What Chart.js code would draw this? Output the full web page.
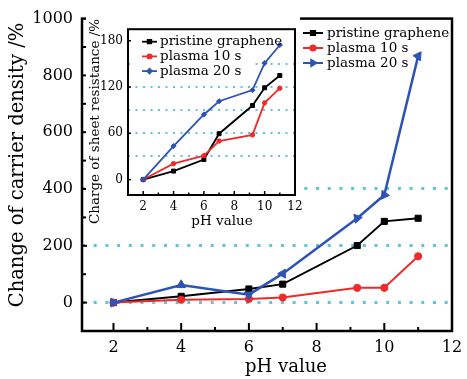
<!DOCTYPE html>
<html><head><meta charset="utf-8">
<script src="https://cdn.jsdelivr.net/npm/chart.js@4/dist/chart.umd.min.js"></script>
<style>
html,body{margin:0;padding:0;background:#fff;}
#wrap{position:relative;width:467px;height:379px;overflow:hidden;background:#fff;}
#main{position:absolute;left:0;top:0;}
#inset{position:absolute;left:86px;top:17px;}
</style></head><body>
<div id="wrap">
<canvas id="main" width="467" height="379"></canvas>
<canvas id="inset" width="222" height="215"></canvas>
</div>
<script>
// ---------- data ----------
const seriesNames = ['pristine graphene', 'plasma 10 s', 'plasma 20 s'];
const phValues = [2, 4, 6, 7, 9.2, 10, 11];
// main: change of carrier density (%)
const carrierPristine = [0, 22, 48, 65, 201, 286, 297];
const carrierPlasma10 = [0, 10, 13, 18, 52, 52, 163];
const carrierPlasma20 = [0, 62, 28, 102, 297, 379, 868];
// inset: change of sheet resistance (%)
const sheetPristine = [0, 11, 26, 59.5, 96, 119, 135];
const sheetPlasma10 = [0, 20.7, 31, 50, 58, 99.5, 118.5];
const sheetPlasma20 = [0, 43.5, 84.4, 101.6, 116, 151, 174.5];
// tick labels / grid values
const mainXTicks = [2, 4, 6, 8, 10, 12];
const mainXMinor = [3, 5, 7, 9, 11];
const mainYTicks = [0, 200, 400, 600, 800, 1000];
const mainYMinor = [100, 300, 500, 700, 900];
const mainYGrid = [0, 200, 400];
const insetXTicks = [2, 4, 6, 8, 10, 12];
const insetXMinor = [3, 5, 7, 9, 11];
const insetYTicks = [0, 60, 120, 180];
const insetYGrid = [30, 60, 90, 120, 150];
const mainXTitle = 'pH value';
const mainYTitle = 'Change of carrier density /%';
const insetXTitle = 'pH value';
const insetYTitle = 'Charge of sheet resistance /%';

const BLACK = '#000000', RED = '#ef2a2a', BLUE = '#2d53b6', CYAN = '#5cc8d6';
const SERIF = 'DejaVu Serif';
const blueRotations = [90, 0, 180, 30, 200, 215, 35];

function pts(ys) { return phValues.map((x, i) => ({x: x, y: ys[i]})); }
function setTicks(list) { return function (s) { s.ticks = list.map(v => ({value: v})); }; }

function decor(cfg) {
  return {
    id: 'decor',
    beforeDraw(chart) {
      if (cfg.bgWidth) {
        const c = chart.ctx; c.save(); c.fillStyle = '#fff';
        c.fillRect(0, 0, cfg.bgWidth, chart.height); c.restore();
      }
    },
    afterDatasetsDraw(chart) {
      const c = chart.ctx, a = chart.chartArea;
      const xs = chart.scales.x, ys = chart.scales.y;
      c.save();
      c.strokeStyle = '#000'; c.lineWidth = cfg.tickWidth;
      const xt = (list, len) => list.forEach(v => {
        const p = xs.getPixelForValue(v);
        if (p <= a.left + 1 || p >= a.right - 1) return;
        c.beginPath(); c.moveTo(p, a.bottom); c.lineTo(p, a.bottom - len); c.stroke();
      });
      xt(cfg.xMajor, cfg.xMajorLen); xt(cfg.xMinor, cfg.xMinorLen);
      const yt = (list, len) => list.forEach(v => {
        const p = ys.getPixelForValue(v);
        if (p <= a.top + 1 || p >= a.bottom - 1) return;
        c.beginPath(); c.moveTo(a.left, p); c.lineTo(a.left + len, p); c.stroke();
      });
      yt(cfg.yMajor, cfg.yMajorLen); yt(cfg.yMinor, cfg.yMinorLen);
      // frame
      c.lineWidth = cfg.frameWidth;
      c.strokeRect(a.left, a.top, a.right - a.left, a.bottom - a.top);
      // legend
      const L = cfg.legend;
      if (L.bg) { c.fillStyle = '#fff'; c.fillRect(L.bg[0], L.bg[1], L.bg[2], L.bg[3]); }
      chart.data.datasets.forEach((ds, i) => {
        const y = L.y + i * L.rowH;
        c.strokeStyle = ds.borderColor; c.fillStyle = ds.borderColor;
        c.lineWidth = L.lineWidth;
        c.beginPath(); c.moveTo(L.x, y); c.lineTo(L.x + L.lineLen, y); c.stroke();
        const m = L.markers[i];
        Chart.helpers.drawPoint(c, {pointStyle: m.style, radius: m.r, rotation: m.rot || 0, borderWidth: 1}, L.x + L.lineLen / 2, y);
        c.fillStyle = '#000';
        c.font = L.font + 'px "' + SERIF + '"';
        c.textBaseline = 'middle'; c.textAlign = 'left';
        c.fillText(ds.label, L.x + L.lineLen + L.gap, y);
      });
      // axis titles
      cfg.titles.forEach(t => {
        c.save();
        c.fillStyle = '#000';
        c.font = t.size + 'px "' + SERIF + '"';
        c.textAlign = 'center'; c.textBaseline = 'middle';
        c.translate(t.x, t.y);
        if (t.rot) c.rotate(t.rot * Math.PI / 180);
        c.fillText(t.text, 0, 0);
        c.restore();
      });
      c.restore();
    }
  };
}

// ---------- main chart ----------
new Chart(document.getElementById('main'), {
  type: 'line',
  data: {
    datasets: [
      {label: seriesNames[0], data: pts(carrierPristine), borderColor: BLACK, backgroundColor: BLACK,
       pointStyle: 'rect', pointRadius: 4.3, pointBorderWidth: 1, borderWidth: 2, order: 2},
      {label: seriesNames[1], data: pts(carrierPlasma10), borderColor: RED, backgroundColor: RED,
       pointStyle: 'circle', pointRadius: 3.6, pointBorderWidth: 1, borderWidth: 2, order: 1},
      {label: seriesNames[2], data: pts(carrierPlasma20), borderColor: BLUE, backgroundColor: BLUE,
       pointStyle: 'triangle', pointRadius: 5.2, pointRotation: blueRotations, pointBorderWidth: 1, borderWidth: 2.5, order: 0}
    ]
  },
  options: {
    responsive: false, animation: false, events: [],
    layout: {padding: {top: 15, right: 15, left: 0, bottom: 0}, autoPadding: false},
    plugins: {legend: {display: false}, tooltip: {enabled: false}},
    scales: {
      x: {
        type: 'linear', min: 1.07, max: 12,
        afterBuildTicks: setTicks(mainXTicks),
        afterFit: s => { s.height = 48; },
        grid: {display: false}, border: {display: false},
        ticks: {padding: -1, color: '#000', font: {family: SERIF, size: 16}, maxRotation: 0, autoSkip: false,
          callback: v => String(v)},
        title: {display: false, text: mainXTitle}
      },
      y: {
        type: 'linear', min: -100, max: 1000,
        afterBuildTicks: setTicks(mainYTicks),
        afterFit: s => { s.width = 82; },
        grid: {color: c => (c.tick && mainYGrid.includes(c.tick.value)) ? CYAN : 'rgba(0,0,0,0)', lineWidth: 3, drawTicks: false},
        border: {display: false, dash: [3, 8.7]},
        ticks: {padding: 9, color: '#000', font: {family: SERIF, size: 16}, autoSkip: false,
          callback: v => String(v)},
        title: {display: false, text: mainYTitle}
      }
    }
  },
  plugins: [decor({
    tickWidth: 2, frameWidth: 2.5,
    xMajor: mainXTicks, xMinor: mainXMinor, xMajorLen: 8, xMinorLen: 4,
    yMajor: mainYTicks, yMinor: mainYMinor, yMajorLen: 5, yMinorLen: 4,
    legend: {x: 303, y: 33, rowH: 15, lineLen: 20, gap: 4, lineWidth: 2, font: 13.5,
      markers: [{style: 'rect', r: 3}, {style: 'circle', r: 2.6}, {style: 'triangle', r: 3.5, rot: 90}]},
    titles: [
      {text: mainXTitle, x: 286, y: 367, size: 18},
      {text: mainYTitle, x: 18, y: 165, size: 19.5, rot: -90}
    ]
  })]
});

// ---------- inset chart ----------
new Chart(document.getElementById('inset'), {
  type: 'line',
  data: {
    datasets: [
      {label: seriesNames[0], data: pts(sheetPristine), borderColor: BLACK, backgroundColor: BLACK,
       pointStyle: 'rect', pointRadius: 2.8, pointBorderWidth: 1, borderWidth: 1.8, order: 2},
      {label: seriesNames[1], data: pts(sheetPlasma10), borderColor: RED, backgroundColor: RED,
       pointStyle: 'circle', pointRadius: 2.2, pointBorderWidth: 1, borderWidth: 1.8, order: 1},
      {label: seriesNames[2], data: pts(sheetPlasma20), borderColor: BLUE, backgroundColor: BLUE,
       pointStyle: 'rectRot', pointRadius: 2.6, pointBorderWidth: 1, borderWidth: 1.8, order: 0}
    ]
  },
  options: {
    responsive: false, animation: false, events: [],
    layout: {padding: {top: 11, right: 13, left: 0, bottom: 0}, autoPadding: false},
    plugins: {legend: {display: false}, tooltip: {enabled: false}},
    scales: {
      x: {
        type: 'linear', min: 1, max: 12,
        afterBuildTicks: setTicks(insetXTicks),
        afterFit: s => { s.height = 37; },
        grid: {display: false}, border: {display: false},
        ticks: {padding: -3, color: '#000', font: {family: SERIF, size: 12}, maxRotation: 0, autoSkip: false,
          callback: v => String(v)},
        title: {display: false, text: insetXTitle}
      },
      y: {
        type: 'linear', min: -20, max: 195,
        afterBuildTicks: s => { s.ticks = insetYTicks.concat(insetYGrid).filter((v, i, arr) => arr.indexOf(v) === i).sort((p, q) => p - q).map(v => ({value: v})); },
        afterFit: s => { s.width = 42; },
        grid: {color: c => (c.tick && insetYGrid.includes(c.tick.value)) ? CYAN : 'rgba(0,0,0,0)', lineWidth: 2, drawTicks: false},
        border: {display: false, dash: [2, 5.5]},
        ticks: {padding: 5, color: '#000', font: {family: SERIF, size: 12}, autoSkip: false,
          callback: v => insetYTicks.includes(v) ? String(v) : ''},
        title: {display: false, text: insetYTitle}
      }
    }
  },
  plugins: [decor({
    bgWidth: 214,
    tickWidth: 1.5, frameWidth: 2,
    xMajor: insetXTicks, xMinor: insetXMinor, xMajorLen: 4, xMinorLen: 2.5,
    yMajor: insetYTicks, yMinor: [], yMajorLen: 3, yMinorLen: 0,
    legend: {x: 56, y: 24.7, rowH: 14.7, lineLen: 15, gap: 3, lineWidth: 1.8, font: 13.5, bg: [48, 16, 121, 44],
      markers: [{style: 'rect', r: 2.5}, {style: 'circle', r: 2}, {style: 'rectRot', r: 2.3}]},
    titles: [
      {text: insetXTitle, x: 136, y: 204.7, size: 13.5},
      {text: insetYTitle, x: 9, y: 104.5, size: 13.5, rot: -90}
    ]
  })]
});
</script>
</body></html>
